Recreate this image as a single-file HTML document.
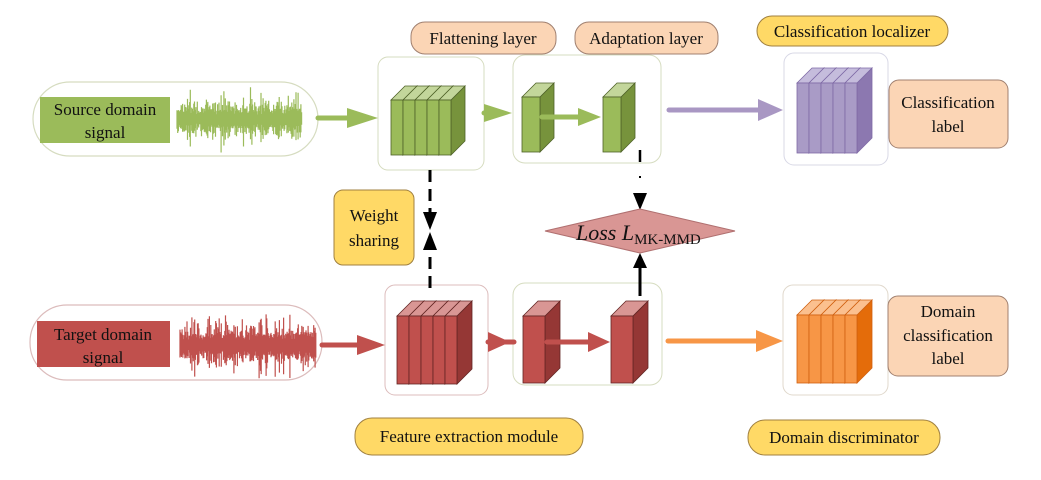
<!DOCTYPE html>
<html><head><meta charset="utf-8"><style>
html,body{margin:0;padding:0;background:#fff;width:1041px;height:480px;overflow:hidden}
svg text{font-family:"Liberation Serif",serif;fill:#111}
</style></head><body>
<svg id="s" width="1041" height="480" viewBox="0 0 1041 480" xmlns="http://www.w3.org/2000/svg">
<rect x="33" y="82" width="285" height="74" rx="37" fill="#fff" stroke="#d6dcc0" stroke-width="1.2"/>
<rect x="40" y="97" width="130" height="46" fill="#9bbb5a"/>
<text x="105" y="115" font-size="17" text-anchor="middle">Source domain</text>
<text x="105" y="138" font-size="17" text-anchor="middle">signal</text>
<rect x="30" y="305" width="292" height="75" rx="37" fill="#fff" stroke="#dcbcbc" stroke-width="1.2"/>
<rect x="37" y="321" width="133" height="46" fill="#c0504d"/>
<text x="103" y="340" font-size="17" text-anchor="middle">Target domain</text>
<text x="103" y="363" font-size="17" text-anchor="middle">signal</text>

<rect x="378" y="57" width="106" height="113" rx="10" fill="#fff" stroke="#d6dcc0"/>
<rect x="513" y="55" width="148" height="108" rx="12" fill="#fff" stroke="#d6dcc0"/>
<rect x="784" y="53" width="104" height="112" rx="10" fill="#fff" stroke="#d8d8e6"/>
<rect x="385" y="285" width="103" height="110" rx="10" fill="#fff" stroke="#dcbcbc"/>
<rect x="513" y="283" width="149" height="102" rx="12" fill="#fff" stroke="#d6dcc0"/>
<rect x="783" y="285" width="105" height="110" rx="10" fill="#fff" stroke="#e0d8cc"/>

<g id="g"></g>

<g stroke-linecap="round">
<line x1="318" y1="118" x2="350" y2="118" stroke="#9bbb5a" stroke-width="5"/>
<polygon points="347,108 378,118 347,128" fill="#9bbb5a"/>
<line x1="484" y1="113" x2="492" y2="113" stroke="#9bbb5a" stroke-width="5"/>
<polygon points="484,104 512,113 484,122" fill="#9bbb5a"/>
<line x1="542" y1="117" x2="580" y2="117" stroke="#9bbb5a" stroke-width="5"/>
<polygon points="578,108 601,117 578,126" fill="#9bbb5a"/>
<line x1="669" y1="110" x2="760" y2="110" stroke="#a997c3" stroke-width="5"/>
<polygon points="758,99 783,110 758,121" fill="#a997c3"/>
<line x1="322" y1="345" x2="360" y2="345" stroke="#c0504d" stroke-width="5"/>
<polygon points="357,335 385,345 357,355" fill="#c0504d"/>
<line x1="488" y1="342" x2="514" y2="342" stroke="#c0504d" stroke-width="5"/>
<polygon points="488,332 510,342 488,352" fill="#c0504d"/>
<line x1="547" y1="342" x2="590" y2="342" stroke="#c0504d" stroke-width="5"/>
<polygon points="588,332 610,342 588,352" fill="#c0504d"/>
<line x1="668" y1="341" x2="760" y2="341" stroke="#f79646" stroke-width="5"/>
<polygon points="756,330 783,341 756,352" fill="#f79646"/>
</g>
<line x1="430" y1="170" x2="430" y2="215" stroke="#000" stroke-width="3" stroke-dasharray="12,7"/>
<polygon points="423,212 437,212 430,230" fill="#000"/>
<line x1="430" y1="288" x2="430" y2="248" stroke="#000" stroke-width="3" stroke-dasharray="12,7"/>
<polygon points="423,250 437,250 430,232" fill="#000"/>
<line x1="640" y1="150" x2="640" y2="162" stroke="#000" stroke-width="2.5"/>
<line x1="640" y1="176" x2="640" y2="178" stroke="#000" stroke-width="2"/>
<polygon points="633,193 647,193 640,210" fill="#000"/>
<line x1="640" y1="296" x2="640" y2="265" stroke="#000" stroke-width="3"/>
<polygon points="633,268 647,268 640,253" fill="#000"/>

<polygon points="545,231 640,209 735,231 640,253" fill="#d99694" stroke="#b07070"/>
<text x="576" y="240" font-size="22"><tspan font-style="italic">Loss L</tspan><tspan font-size="15" dy="4">MK-MMD</tspan></text>

<rect x="411" y="22" width="145" height="32" rx="14" fill="#fbd5b5" stroke="#a08070"/>
<text x="483" y="44" font-size="17" text-anchor="middle">Flattening layer</text>
<rect x="575" y="22" width="143" height="32" rx="14" fill="#fbd5b5" stroke="#a08070"/>
<text x="646" y="44" font-size="17" text-anchor="middle">Adaptation layer</text>
<rect x="757" y="16" width="191" height="30" rx="15" fill="#ffd966" stroke="#a08040"/>
<text x="852" y="37" font-size="17" text-anchor="middle">Classification localizer</text>
<rect x="889" y="80" width="119" height="68" rx="10" fill="#fbd5b5" stroke="#a08070"/>
<text x="948" y="108" font-size="17" text-anchor="middle">Classification</text>
<text x="948" y="132" font-size="17" text-anchor="middle">label</text>
<rect x="334" y="190" width="80" height="75" rx="9" fill="#ffd966" stroke="#a08040"/>
<text x="374" y="221" font-size="17" text-anchor="middle">Weight</text>
<text x="374" y="246" font-size="17" text-anchor="middle">sharing</text>
<rect x="888" y="296" width="120" height="80" rx="10" fill="#fbd5b5" stroke="#a08070"/>
<text x="948" y="317" font-size="17" text-anchor="middle">Domain</text>
<text x="948" y="341" font-size="17" text-anchor="middle">classification</text>
<text x="948" y="364" font-size="17" text-anchor="middle">label</text>
<rect x="355" y="418" width="228" height="37" rx="17" fill="#ffd966" stroke="#a08040"/>
<text x="469" y="442" font-size="17" text-anchor="middle">Feature extraction module</text>
<rect x="748" y="420" width="192" height="35" rx="17" fill="#ffd966" stroke="#a08040"/>
<text x="844" y="443" font-size="17" text-anchor="middle">Domain discriminator</text>
</svg>
<script>
var g=document.getElementById('g'),NS='http://www.w3.org/2000/svg';
function el(t,a){var e=document.createElementNS(NS,t);for(var k in a)e.setAttribute(k,a[k]);g.appendChild(e);return e;}
function slice(x,y,w,h,d,c,top,side,st){
 el('polygon',{points:(x+w)+','+y+' '+(x+w+d)+','+(y-d)+' '+(x+w+d)+','+(y+h-d)+' '+(x+w)+','+(y+h),fill:side,stroke:st,'stroke-width':0.8});
 el('polygon',{points:x+','+y+' '+(x+d)+','+(y-d)+' '+(x+w+d)+','+(y-d)+' '+(x+w)+','+y,fill:top,stroke:st,'stroke-width':0.8});
 el('rect',{x:x,y:y,width:w,height:h,fill:c,stroke:st,'stroke-width':0.8});
}
function stack(x,y,n,w,h,d,c,top,side,st){for(var i=0;i<n;i++)slice(x+i*w,y,w,h,d,c,top,side,st);}
function sig(x0,x1,cy,amp,col,seed){var s=seed,p='';function r(){s=(s*9301+49297)%233280;return s/233280;}
 for(var x=x0;x<=x1;x+=0.7){var k=r();var a=amp*(k>0.85?0.7+0.3*r():0.25+0.35*r());p+='M'+x.toFixed(1)+','+(cy-a*(0.5+0.5*r())).toFixed(1)+'L'+x.toFixed(1)+','+(cy+a*(0.5+0.5*r())).toFixed(1);}
 el('path',{d:p,stroke:col,'stroke-width':1.2,fill:'none'});}
sig(177,302,119,35,'#9bbb5a',7);
sig(180,316,345,36,'#c0504d',13);
var G=['#9bbb5a','#c3d69b','#77933c','#4f6228'],R=['#c0504d','#d99694','#953735','#632523'],P=['#a99bc6','#c5bcdc','#8c78b0','#7f6aa6'],O=['#f79646','#fbc08f','#e46c0a','#d06010'];
stack(391,100,5,12,55,14,G[0],G[1],G[2],G[3]);
slice(522,97,18,55,14,G[0],G[1],G[2],G[3]);
slice(603,97,18,55,14,G[0],G[1],G[2],G[3]);
stack(797,83,5,12,70,15,P[0],P[1],P[2],P[3]);
stack(397,316,5,12,68,15,R[0],R[1],R[2],R[3]);
slice(523,316,22,67,15,R[0],R[1],R[2],R[3]);
slice(611,316,22,67,15,R[0],R[1],R[2],R[3]);
stack(797,315,5,12,68,15,O[0],O[1],O[2],O[3]);
</script>
</body></html>
